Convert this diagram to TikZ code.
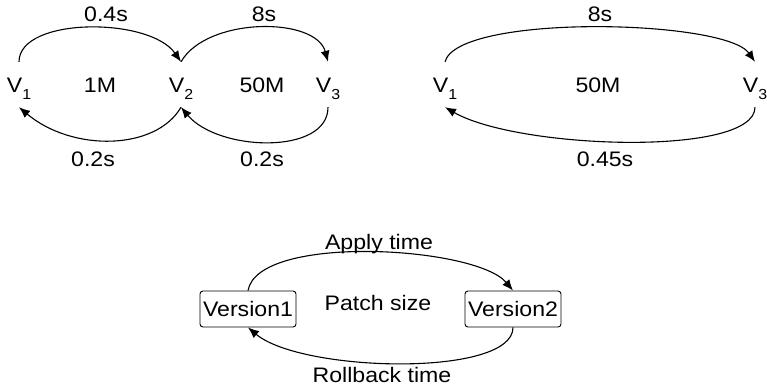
\documentclass[tikz,border=0pt]{standalone}
\usepackage{fontspec}
\setmainfont{Liberation Sans}[FakeStretch=1.1]
\usetikzlibrary{arrows.meta}

% version label with a lowered index
\newcommand{\vsub}[1]{V\raisebox{-7pt}{\fontsize{14.5}{14.5}\selectfont #1}}

\begin{document}
\begin{tikzpicture}[x=1pt,y=1pt,
  every node/.style={font=\fontsize{21}{25}\selectfont},
  lbl/.style={anchor=base, inner sep=0pt},
  vert/.style={anchor=base, inner sep=0pt, text height=31pt, text depth=14pt},
  verbox/.style={draw, rounded corners=3pt, line width=0.9pt, minimum width=96pt,
                 minimum height=36pt, inner sep=0pt, text height=15pt, text depth=0pt},
  arc/.style={line width=1.1pt, -{Latex[length=11pt,width=9pt]}}
]
\useasboundingbox (0,0) rectangle (767,-390);

% ---- chain V1 -> V2 -> V3 ----
\node[vert] (a1) at (19,-93)  {\vsub{1}};
\node[vert] (a2) at (181,-93) {\vsub{2}};
\node[vert] (a3) at (328,-93) {\vsub{3}};
\node[lbl] (s12) at (100,-93) {1M};
\node[lbl] (s23) at (262,-93) {50M};
\node[lbl] (t12) at (106,-22) {0.4s};
\node[lbl] (t23) at (264,-22) {8s};
\node[lbl] (r21) at (93,-166)  {0.2s};
\node[lbl] (r32) at (262,-166) {0.2s};

\draw[arc] (a1.north) .. controls +(90:45) and +(125:55) .. (a2.north);
\draw[arc] (a2.north) .. controls +(60:52) and +(105:47) .. (a3.north);
\draw[arc] (a3.south) .. controls +(-90:48) and +(-50:58) .. (a2.south);
\draw[arc] (a2.south) .. controls +(-120:50) and +(-40:70) .. (a1.south);

% ---- direct V1 -> V3 ----
\node[vert] (b1) at (445,-93) {\vsub{1}};
\node[vert] (b3) at (755,-93) {\vsub{3}};
\node[lbl] (s13) at (598,-93) {50M};
\node[lbl] (t13) at (600,-22) {8s};
\node[lbl] (r31) at (605,-166) {0.45s};

\draw[arc] (b1.north) .. controls +(75:50) and +(125:52) .. (b3.north);
\draw[arc] (b3.south) .. controls +(-90:50) and +(-30:84) .. (b1.south);

% ---- legend ----
\node[verbox] (v1) at (248,-309) {Version1};
\node[verbox] (v2) at (513,-309) {Version2};
\node[lbl] (apply) at (379,-249) {Apply time};
\node[lbl] (patch) at (378,-310) {Patch size};
\node[lbl] (roll)  at (382,-382) {Rollback time};

\draw[arc] (v1.north) .. controls +(80:58) and +(130:58) .. (v2.north);
\draw[arc] (v2.south) .. controls +(-90:50) and +(-40:70) .. (v1.south);
\end{tikzpicture}
\end{document}
